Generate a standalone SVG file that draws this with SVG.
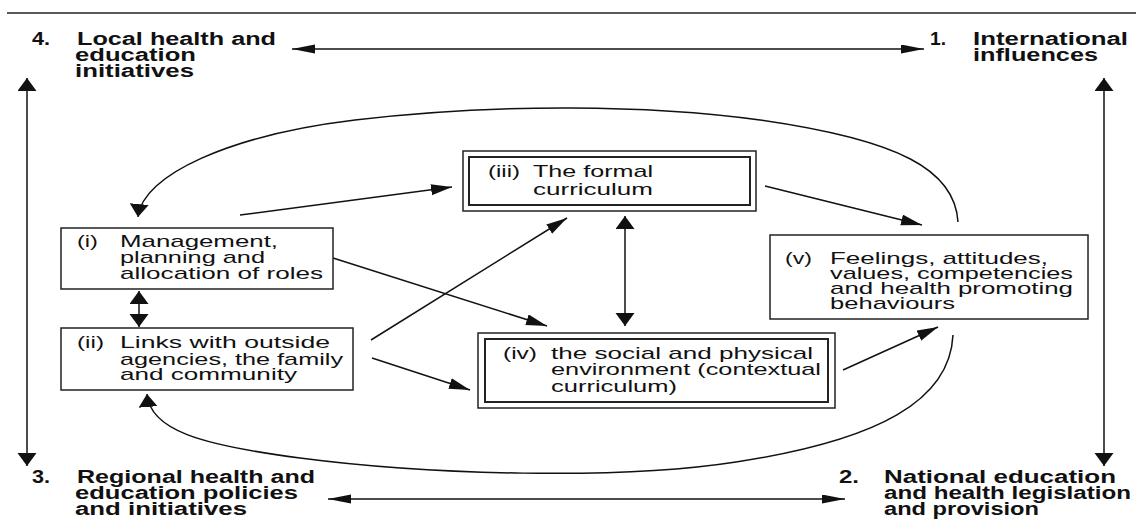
<svg xmlns="http://www.w3.org/2000/svg" width="1136" height="524" viewBox="0 0 1136 524">
<style>
  .lbl { font-family: "Liberation Sans", Arial, sans-serif; font-weight: bold; font-size: 18px; fill: #111; }
  .txt { font-family: "Liberation Sans", Arial, sans-serif; font-size: 17px; fill: #111; }
  .box { fill: #fff; stroke: #222; stroke-width: 1.5; }
  .inner { fill: none; stroke: #222; stroke-width: 2; }
  .ln { fill: none; stroke: #111; stroke-width: 1.5; }
</style>
<defs>
  <marker id="ah" markerUnits="userSpaceOnUse" markerWidth="24" markerHeight="10" refX="23" refY="4.5" orient="auto-start-reverse" viewBox="0 0 24 10">
    <path d="M0,0 L23,4.5 L0,9 z" fill="#111"/>
  </marker>
  <marker id="av" markerUnits="userSpaceOnUse" markerWidth="14" markerHeight="20" refX="13" refY="9.5" orient="auto-start-reverse" viewBox="0 0 14 20">
    <path d="M0,0 L13,9.5 L0,19 z" fill="#111"/>
  </marker>
  <marker id="ad" markerUnits="userSpaceOnUse" markerWidth="22" markerHeight="12" refX="21" refY="5.5" orient="auto-start-reverse" viewBox="0 0 22 12">
    <path d="M0,0 L21,5.5 L0,11 z" fill="#111"/>
  </marker>
</defs>
<rect x="0" y="0" width="1136" height="524" fill="#fff"/>
<line x1="7" y1="13" x2="1136" y2="13" stroke="#222" stroke-width="1.5"/>

<g id="connectors">
  <line class="ln" x1="292" y1="49" x2="924" y2="49" marker-start="url(#ah)" marker-end="url(#ah)"/>
  <line class="ln" x1="328" y1="499" x2="845" y2="499" marker-start="url(#ah)" marker-end="url(#ah)"/>
  <line class="ln" x1="27" y1="78" x2="27" y2="466" marker-start="url(#av)" marker-end="url(#av)"/>
  <line class="ln" x1="1104" y1="78" x2="1104" y2="466" marker-start="url(#av)" marker-end="url(#av)"/>
  <line class="ln" x1="139" y1="291" x2="139" y2="327" marker-start="url(#av)" marker-end="url(#av)"/>
  <line class="ln" x1="625" y1="216" x2="625" y2="326" marker-start="url(#av)" marker-end="url(#av)"/>
  <path class="ln" d="M958,222 C955,170 900,140 760,120 C650,105 500,103 355,120 C230,135 142,175 138,217" marker-end="url(#av)"/>
  <path class="ln" d="M953,335 C950,400 880,440 736,462 C620,480 430,475 300,458 C200,445 150,430 147,394" marker-end="url(#av)"/>
  <line class="ln" x1="240" y1="215" x2="452" y2="187" marker-end="url(#ad)"/>
  <line class="ln" x1="333" y1="258" x2="547" y2="326" marker-end="url(#ad)"/>
  <line class="ln" x1="371" y1="340" x2="567" y2="218" marker-end="url(#ad)"/>
  <line class="ln" x1="372" y1="358" x2="470" y2="390" marker-end="url(#ad)"/>
  <line class="ln" x1="765" y1="186" x2="922" y2="225" marker-end="url(#ad)"/>
  <line class="ln" x1="843" y1="370" x2="938" y2="327" marker-end="url(#ad)"/>
</g>

<g id="n4">
  <text class="lbl" x="32" y="45" textLength="18" lengthAdjust="spacingAndGlyphs">4.</text>
  <text class="lbl" x="77" y="45" textLength="199" lengthAdjust="spacingAndGlyphs">Local health and</text>
  <text class="lbl" x="75" y="61" textLength="121" lengthAdjust="spacingAndGlyphs">education</text>
  <text class="lbl" x="75" y="77" textLength="119" lengthAdjust="spacingAndGlyphs">initiatives</text>
</g>
<g id="n1">
  <text class="lbl" x="930" y="45" textLength="16" lengthAdjust="spacingAndGlyphs">1.</text>
  <text class="lbl" x="973" y="45" textLength="155" lengthAdjust="spacingAndGlyphs">International</text>
  <text class="lbl" x="973" y="61" textLength="125" lengthAdjust="spacingAndGlyphs">influences</text>
</g>
<g id="n3">
  <text class="lbl" x="32" y="483" textLength="18" lengthAdjust="spacingAndGlyphs">3.</text>
  <text class="lbl" x="77" y="483" textLength="238" lengthAdjust="spacingAndGlyphs">Regional health and</text>
  <text class="lbl" x="75" y="499" textLength="223" lengthAdjust="spacingAndGlyphs">education policies</text>
  <text class="lbl" x="75" y="515" textLength="172" lengthAdjust="spacingAndGlyphs">and initiatives</text>
</g>
<g id="n2">
  <text class="lbl" x="839" y="483" textLength="20" lengthAdjust="spacingAndGlyphs">2.</text>
  <text class="lbl" x="884" y="483" textLength="232" lengthAdjust="spacingAndGlyphs">National education</text>
  <text class="lbl" x="884" y="499" textLength="247" lengthAdjust="spacingAndGlyphs">and health legislation</text>
  <text class="lbl" x="884" y="515" textLength="155" lengthAdjust="spacingAndGlyphs">and provision</text>
</g>

<g id="box-i">
  <rect class="box" x="61" y="228" width="272" height="61"/>
  <text class="txt" x="77" y="247" textLength="21" lengthAdjust="spacingAndGlyphs">(i)</text>
  <text class="txt" x="120" y="247" textLength="158" lengthAdjust="spacingAndGlyphs">Management,</text>
  <text class="txt" x="120" y="263" textLength="145" lengthAdjust="spacingAndGlyphs">planning and</text>
  <text class="txt" x="120" y="279" textLength="203" lengthAdjust="spacingAndGlyphs">allocation of roles</text>
</g>
<g id="box-ii">
  <rect class="box" x="61" y="328" width="292" height="62"/>
  <text class="txt" x="77" y="348" textLength="27" lengthAdjust="spacingAndGlyphs">(ii)</text>
  <text class="txt" x="120" y="348" textLength="210" lengthAdjust="spacingAndGlyphs">Links with outside</text>
  <text class="txt" x="120" y="365" textLength="223" lengthAdjust="spacingAndGlyphs">agencies, the family</text>
  <text class="txt" x="120" y="380" textLength="177" lengthAdjust="spacingAndGlyphs">and community</text>
</g>
<g id="box-iii">
  <rect class="box" x="463" y="151" width="293" height="60"/>
  <rect class="inner" x="469" y="157" width="281" height="48"/>
  <text class="txt" x="488" y="177" textLength="32" lengthAdjust="spacingAndGlyphs">(iii)</text>
  <text class="txt" x="533" y="177" textLength="120" lengthAdjust="spacingAndGlyphs">The formal</text>
  <text class="txt" x="533" y="195" textLength="120" lengthAdjust="spacingAndGlyphs">curriculum</text>
</g>
<g id="box-iv">
  <rect class="box" x="478" y="333" width="357" height="75"/>
  <rect class="inner" x="485" y="339" width="343" height="63"/>
  <text class="txt" x="503" y="359" textLength="34" lengthAdjust="spacingAndGlyphs">(iv)</text>
  <text class="txt" x="551" y="359" textLength="262" lengthAdjust="spacingAndGlyphs">the social and physical</text>
  <text class="txt" x="551" y="375" textLength="270" lengthAdjust="spacingAndGlyphs">environment (contextual</text>
  <text class="txt" x="551" y="392" textLength="126" lengthAdjust="spacingAndGlyphs">curriculum)</text>
</g>
<g id="box-v">
  <rect class="box" x="770" y="235" width="318" height="84"/>
  <text class="txt" x="785" y="264" textLength="27" lengthAdjust="spacingAndGlyphs">(v)</text>
  <text class="txt" x="830" y="264" textLength="218" lengthAdjust="spacingAndGlyphs">Feelings, attitudes,</text>
  <text class="txt" x="830" y="279" textLength="243" lengthAdjust="spacingAndGlyphs">values, competencies</text>
  <text class="txt" x="830" y="294" textLength="243" lengthAdjust="spacingAndGlyphs">and health promoting</text>
  <text class="txt" x="830" y="309" textLength="125" lengthAdjust="spacingAndGlyphs">behaviours</text>
</g>
</svg>
